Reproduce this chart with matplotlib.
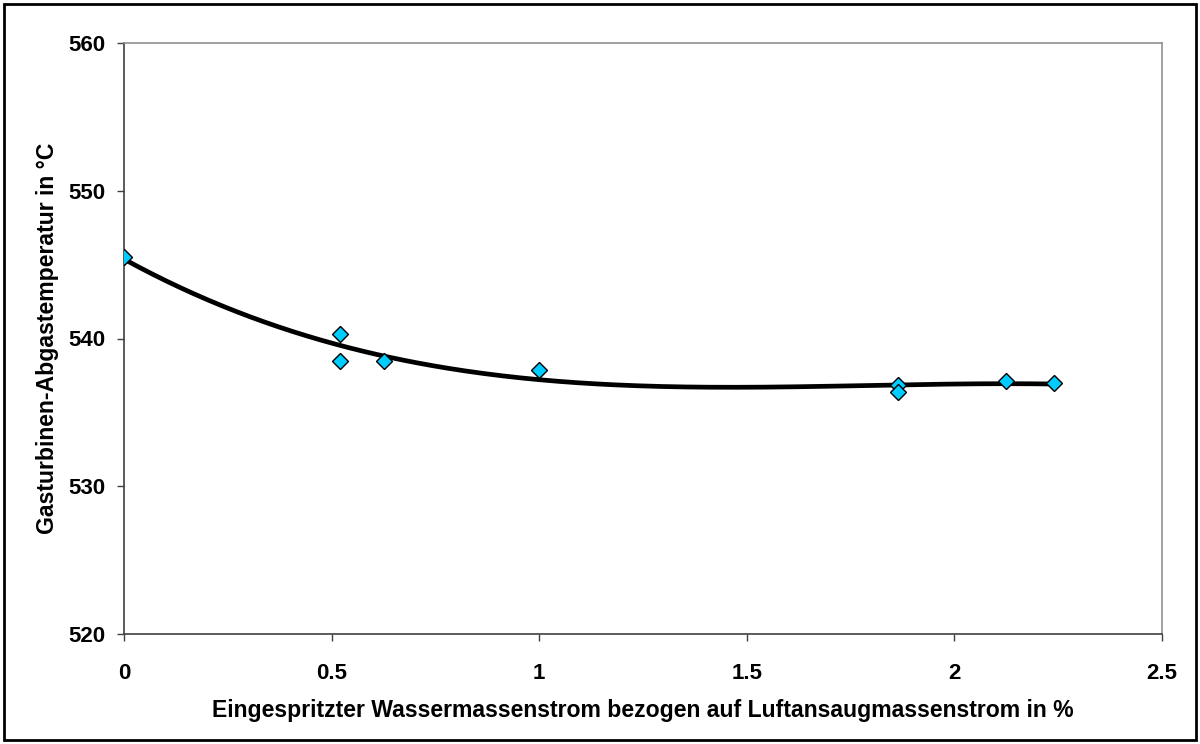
import numpy as np
import matplotlib.pyplot as plt
from matplotlib.patches import Rectangle

## measured points
water_pct = [0.0, 0.52, 0.52, 0.625, 1.0, 1.865, 1.865, 2.125, 2.24]
exhaust_temp = [545.5, 540.3, 538.5, 538.5, 537.9, 536.85, 536.4, 537.1, 537.0]

x_ticks = [0, 0.5, 1, 1.5, 2, 2.5]
x_tick_labels = ['0', '0.5', '1', '1.5', '2', '2.5']
y_ticks = [520, 530, 540, 550, 560]

plt.rcParams['font.family'] = ['Liberation Sans', 'DejaVu Sans']
plt.rcParams['font.weight'] = 'bold'

fig = plt.figure(figsize=(12, 7.44), dpi=100)
ax = fig.add_axes([124 / 1200, 1 - 634 / 744, (1162 - 124) / 1200, (634 - 43) / 744])

## 3rd order polynomial trendline (like the spreadsheet one)
coef = np.polyfit(water_pct, exhaust_temp, 3)
xs = np.linspace(min(water_pct), max(water_pct), 200)
ax.plot(xs, np.polyval(coef, xs), color='black', lw=3.4, zorder=2)

ax.plot(water_pct, exhaust_temp, linestyle='none', marker='D', markersize=8,
        markerfacecolor='#00CCFF', markeredgecolor='black', markeredgewidth=1.0, zorder=3)

ax.set_xlim(0, 2.5)
ax.set_ylim(520, 560)
ax.set_xticks(x_ticks)
ax.set_xticklabels(x_tick_labels)
ax.set_yticks(y_ticks)
ax.tick_params(axis='both', direction='out', length=5, width=1, color='#404040', labelsize=16)
ax.tick_params(axis='x', pad=16)
ax.tick_params(axis='y', pad=8)
for lbl in ax.get_xticklabels() + ax.get_yticklabels():
    lbl.set_fontweight('bold')

ax.spines['left'].set_color('#404040')
ax.spines['bottom'].set_color('#404040')
ax.spines['top'].set_color('#909090')
ax.spines['right'].set_color('#909090')
for s in ax.spines.values():
    s.set_linewidth(1.2)

ax.set_xlabel('Eingespritzter Wassermassenstrom bezogen auf Luftansaugmassenstrom in %',
              fontsize=16.6, fontweight='bold', labelpad=11)
ax.set_ylabel('Gasturbinen-Abgastemperatur in °C', fontsize=16.6, fontweight='bold', labelpad=7)

## outer frame around the whole chart
fig.patches.append(Rectangle((4 / 1200, 4 / 744), 1192 / 1200, 736 / 744, transform=fig.transFigure,
                             fill=False, edgecolor='black', linewidth=2))

plt.savefig('out.png', dpi=100)
